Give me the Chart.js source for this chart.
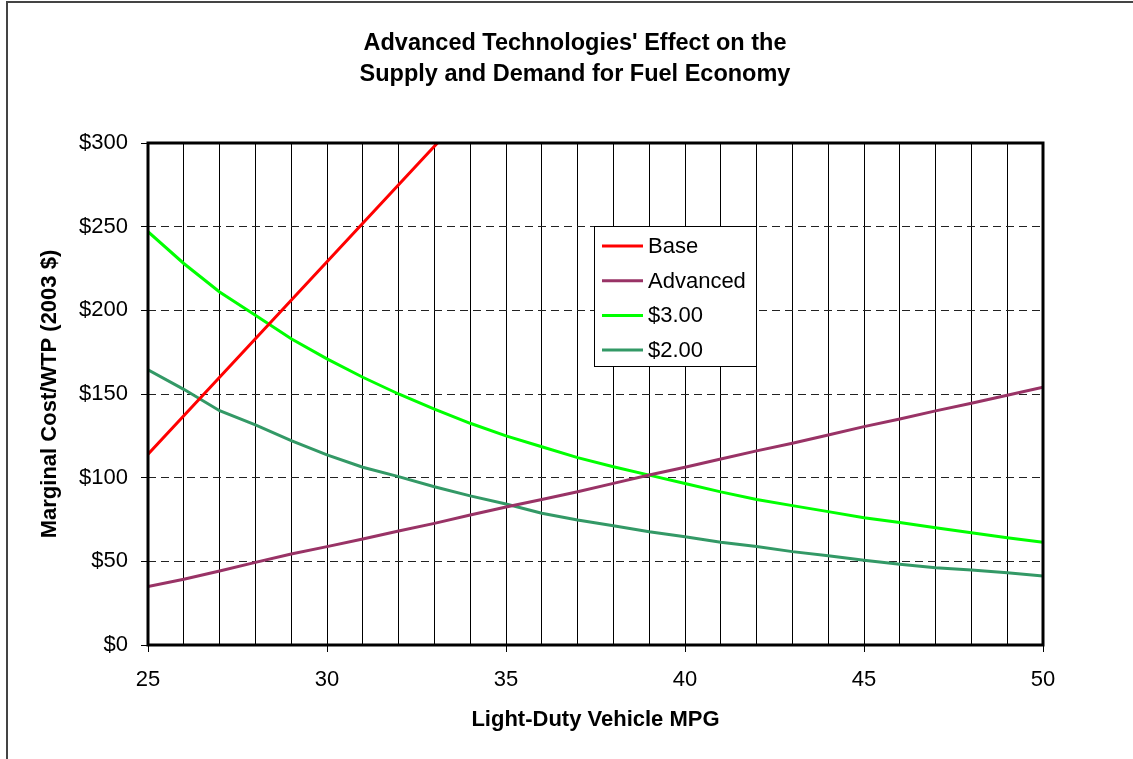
<!DOCTYPE html>
<html>
<head>
<meta charset="utf-8">
<script src="https://cdn.jsdelivr.net/npm/chart.js@4.4.1/dist/chart.umd.min.js"></script>
<style>
  html, body { margin: 0; padding: 0; background: #fff; }
  #wrap { width: 1133px; height: 759px; }
</style>
</head>
<body>
<div id="wrap"><canvas id="fuelChart" width="1133" height="759"></canvas></div>
<script>
const mpg = [25, 26, 27, 28, 29, 30, 31, 32, 33, 34, 35, 36, 37, 38, 39, 40, 41, 42, 43, 44, 45, 46, 47, 48, 49, 50];
const base = [114, 137, 160, 183, 206, 229, 252, 275, 298, 321];
const advanced = [35, 39.3, 44.2, 49.4, 54.4, 58.8, 63.4, 68.1, 72.7, 77.7, 82.5, 87, 91.6, 96.6, 101.6, 106.2, 111.2, 116, 120.6, 125.5, 130.5, 135.1, 139.9, 144.5, 149.3, 154];
const price300 = [247, 228, 211, 197, 183, 171, 160, 150, 141, 132.5, 125, 118.5, 112, 106.5, 101.5, 96.5, 91.5, 87, 83.3, 79.7, 76.1, 73.2, 70.1, 67.1, 64.1, 61.4];
const price200 = [164.4, 152.8, 140, 131.5, 122.1, 113.6, 106.2, 100.6, 94.6, 89.1, 84.3, 78.7, 74.7, 71.3, 67.7, 64.7, 61.4, 58.8, 55.8, 53.4, 50.6, 48.2, 46.2, 44.8, 43.2, 41.2];
const yTicks = [0, 50, 100, 150, 200, 250, 300];
const titleLines = ["Advanced Technologies' Effect on the", 'Supply and Demand for Fuel Economy'];

const font = '"Liberation Sans", Arial, sans-serif';

function points(values) {
    return values.map((v, i) => ({ x: mpg[i], y: v }));
}

function series(label, values, color) {
    return {
        label: label,
        data: points(values),
        borderColor: color,
        backgroundColor: color,
        borderWidth: 3,
        pointRadius: 0,
        tension: 0,
        fill: false
    };
}

// frame, title, plot border and legend box
const decor = {
    id: 'decor',
    beforeDraw(chart) {
        const ctx = chart.ctx;
        ctx.save();
        ctx.strokeStyle = '#444';
        ctx.lineWidth = 2;
        ctx.beginPath();
        ctx.moveTo(7, 759);
        ctx.lineTo(7, 2);
        ctx.lineTo(1133, 2);
        ctx.stroke();

        ctx.fillStyle = '#000';
        ctx.font = 'bold 23.5px ' + font;
        ctx.textAlign = 'center';
        ctx.textBaseline = 'middle';
        ctx.fillText(titleLines[0], 575, 44);
        ctx.fillText(titleLines[1], 575, 75);
        ctx.restore();
    },
    afterDatasetsDraw(chart) {
        const ctx = chart.ctx;
        const a = chart.chartArea;
        ctx.save();
        ctx.strokeStyle = '#000';
        ctx.lineWidth = 3;
        ctx.strokeRect(a.left, a.top, a.right - a.left, a.bottom - a.top);

        // legend
        const lx = 594, ly = 226, lw = 162, lh = 140;
        ctx.fillStyle = '#fff';
        ctx.fillRect(lx, ly, lw, lh);
        ctx.lineWidth = 1;
        ctx.strokeRect(lx + 0.5, ly + 0.5, lw, lh);
        ctx.font = '22px ' + font;
        ctx.textAlign = 'left';
        ctx.textBaseline = 'middle';
        chart.data.datasets.forEach((ds, i) => {
            const y = 246 + i * 34.7;
            ctx.strokeStyle = ds.borderColor;
            ctx.lineWidth = 3;
            ctx.beginPath();
            ctx.moveTo(602, y);
            ctx.lineTo(643, y);
            ctx.stroke();
            ctx.fillStyle = '#000';
            ctx.fillText(ds.label, 648, y + 1);
        });
        ctx.restore();
    }
};

new Chart(document.getElementById('fuelChart'), {
    type: 'line',
    data: {
        datasets: [
            series('Base', base, '#FF0000'),
            series('Advanced', advanced, '#993366'),
            series('$3.00', price300, '#00FF00'),
            series('$2.00', price200, '#339966')
        ]
    },
    options: {
        responsive: false,
        animation: false,
        layout: { padding: { left: 0, right: 90, top: 143, bottom: 0 } },
        plugins: {
            legend: { display: false },
            title: { display: false },
            tooltip: { enabled: false }
        },
        scales: {
            x: {
                type: 'linear',
                min: 25,
                max: 50,
                afterFit(scale) { scale.height = 114; },
                ticks: {
                    stepSize: 1,
                    autoSkip: false,
                    maxRotation: 0,
                    padding: 15,
                    color: '#000',
                    font: { family: font, size: 22 },
                    callback: (v) => (v % 5 === 0 ? String(v) : '')
                },
                grid: {
                    color: '#000',
                    lineWidth: 1,
                    tickLength: 7,
                    tickColor: (c) => (c.tick && c.tick.value % 5 === 0 ? '#000' : 'rgba(0,0,0,0)')
                },
                border: { display: false },
                title: {
                    display: true,
                    text: 'Light-Duty Vehicle MPG',
                    color: '#000',
                    font: { family: font, size: 22, weight: 'bold' },
                    padding: { top: 0, bottom: 26 }
                }
            },
            y: {
                min: 0,
                max: 300,
                afterFit(scale) { scale.width = 148; },
                afterBuildTicks(scale) { scale.ticks = yTicks.map(v => ({ value: v })); },
                ticks: {
                    padding: 13,
                    color: '#000',
                    font: { family: font, size: 22 },
                    callback: (v) => '$' + v
                },
                grid: {
                    color: '#222',
                    lineWidth: 1,
                    tickLength: 7,
                    tickColor: '#000'
                },
                border: { display: false, dash: [8, 5] },
                title: {
                    display: true,
                    text: 'Marginal Cost/WTP (2003 $)',
                    color: '#000',
                    font: { family: font, size: 22, weight: 'bold' },
                    padding: { top: 37, bottom: 0 }
                }
            }
        }
    },
    plugins: [decor]
});
</script>
</body>
</html>
